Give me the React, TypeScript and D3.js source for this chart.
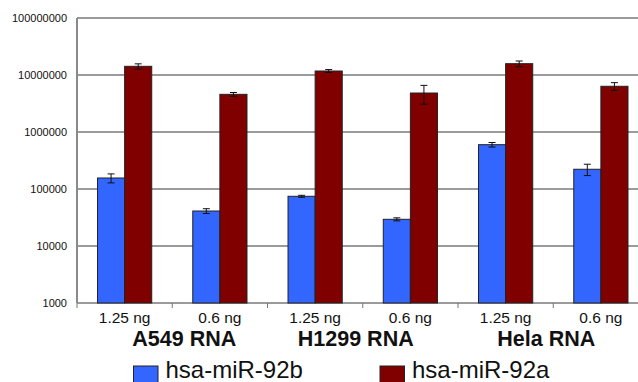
import React from 'react';
import * as d3 from 'd3';

const categories = ['1.25 ng', '0.6 ng', '1.25 ng', '0.6 ng', '1.25 ng', '0.6 ng'];
const groups = ['A549 RNA', 'H1299 RNA', 'Hela RNA'];
const seriesNames = ['hsa-miR-92b', 'hsa-miR-92a'];
const colors = ['#3366ff', '#800000'];

const mir92b = [156000, 41100, 74500, 29400, 599000, 222000];
const mir92bErr = [28000, 4000, 3000, 1800, 55000, 50000];
const mir92a = [14200000, 4580000, 11750000, 4830000, 15800000, 6340000];
const mir92aErr = [1500000, 350000, 700000, 1750000, 1800000, 1000000];

const yTicks = [1000, 10000, 100000, 1000000, 10000000, 100000000];

const W = 638;
const H = 382;
const left = 77;
const top = 18;
const bottom = 303;
const right = 648.5; // plot runs past the picture edge
// group titles sit a little off-centre in the original
const groupShift = [12, -7, -7];

export default function App() {
  const y = d3.scaleLog().domain([1000, 100000000]).range([bottom, top]);
  const x = d3.scaleBand<number>().domain(d3.range(categories.length)).range([left, right]).padding(0);
  const xs = d3.scaleBand<number>().domain([0, 1]).range([0, x.bandwidth()]).paddingInner(0).paddingOuter(0.757);
  const fmt = d3.format('d');
  const series = [
    { vals: mir92b, errs: mir92bErr },
    { vals: mir92a, errs: mir92aErr },
  ];
  const font = 'Liberation Sans, Arial, sans-serif';

  return (
    <svg width={W} height={H} style={{ position: 'absolute', left: 0, top: 0 }} fontFamily={font}>
      <rect width={W} height={H} fill="#fff" />
      {yTicks.map(t => (
        <g key={t}>
          <line x1={left} x2={right} y1={y(t)} y2={y(t)} stroke="#7a7a7a" strokeWidth={1.5} />
          <text x={67} y={y(t)} dy="0.35em" textAnchor="end" fontSize={11} fill="#111">{fmt(t)}</text>
        </g>
      ))}
      <line x1={left} x2={left} y1={top} y2={bottom} stroke="#8a8a8a" strokeWidth={2} />
      {d3.range(categories.length + 1).map(i => {
        const xx = i < categories.length ? (x(i) as number) : right;
        return <line key={i} x1={xx} x2={xx} y1={bottom} y2={bottom + 5} stroke="#777" strokeWidth={1} />;
      })}
      {series.map((s, si) => (
        <g key={si}>
          {s.vals.map((v, i) => {
            const bx = (x(i) as number) + (xs(si) as number);
            const bw = xs.bandwidth();
            const cx = bx + bw / 2;
            const hi = y(v + s.errs[i]);
            const lo = y(v - s.errs[i]);
            return (
              <g key={i}>
                <rect x={bx} y={y(v)} width={bw} height={bottom - y(v)} fill={colors[si]} stroke="#222" strokeWidth={1} />
                <line x1={cx} x2={cx} y1={hi} y2={lo} stroke="#111" strokeWidth={1} />
                <line x1={cx - 3.5} x2={cx + 3.5} y1={hi} y2={hi} stroke="#111" strokeWidth={1} />
                <line x1={cx - 3.5} x2={cx + 3.5} y1={lo} y2={lo} stroke="#111" strokeWidth={1} />
              </g>
            );
          })}
        </g>
      ))}
      {categories.map((c, i) => (
        <text key={i} x={(x(i) as number) + x.bandwidth() / 2} y={322.5} textAnchor="middle" fontSize={15.5} fill="#111">{c}</text>
      ))}
      {groups.map((g, gi) => (
        <text key={g} x={(x(gi * 2 + 1) as number) + groupShift[gi]} y={346} textAnchor="middle" fontSize={21.5} fontWeight="bold" fill="#111">{g}</text>
      ))}
      {seriesNames.map((n, si) => {
        const lx = si === 0 ? 133.5 : 380;
        return (
          <g key={n}>
            <rect x={lx} y={366} width={24.5} height={20} fill={colors[si]} stroke="#222" strokeWidth={1} />
            <text x={lx + 32} y={377.5} fontSize={24} fill="#111">{n}</text>
          </g>
        );
      })}
    </svg>
  );
}
